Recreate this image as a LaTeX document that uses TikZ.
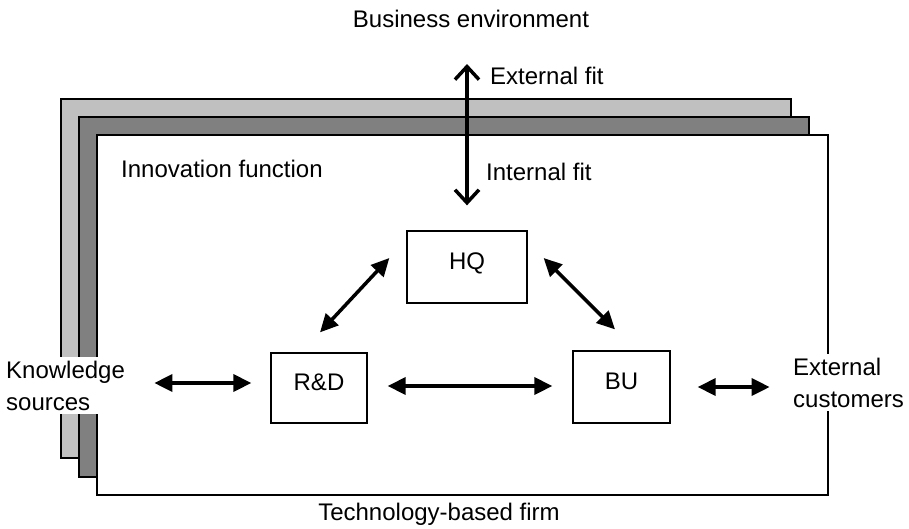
\documentclass[tikz,border=0pt]{standalone}
\usepackage{fontspec}
\setmainfont{Liberation Sans}
\usetikzlibrary{arrows.meta,calc}

\tikzset{
  txt/.style={font=\fontsize{24}{32}\selectfont, inner sep=0pt},
  unitbox/.style={draw, line width=1.3pt, fill=white, inner sep=0pt,
    font=\fontsize{24}{32}\selectfont, text height=17pt, text depth=13pt},
  layer/.style={draw, line width=1.5pt},
  dblarrow/.style={{Triangle[length=18pt,width=17pt]}-{Triangle[length=18pt,width=17pt]}, line width=3.5pt},
  fitarrow/.style={{Straight Barb[length=13pt,width=24pt,line width=3.5pt]}-{Straight Barb[length=13pt,width=24pt,line width=3.5pt]}, line width=3.5pt}
}

\begin{document}
\begin{tikzpicture}[x=1pt, y=-1pt]
\useasboundingbox (0,0) rectangle (909,528);

% stacked layers of the firm
\draw[layer, fill={rgb,255:red,192;green,192;blue,192}] (61,99) rectangle (791,458);
\draw[layer, fill={rgb,255:red,128;green,128;blue,128}] (79,117) rectangle (809,477);
\draw[layer, fill=white] (97,135) rectangle (828,495);

% frame labels
\node[txt, anchor=base] (env) at (471,27) {Business environment};
\node[txt, anchor=base] (firm) at (439,520) {Technology-based firm};
\node[txt, anchor=base west] (innov) at (121,177) {Innovation function};

% units of the innovation function
\node[unitbox, minimum width=120pt, minimum height=72pt] (hq) at (467,267) {HQ};
\node[unitbox, minimum width=96pt, minimum height=70pt] (rd) at (319,388) {R\&D};
\node[unitbox, minimum width=97pt, minimum height=72pt] (bu) at (621.5,387) {BU};

% external partners
\node[txt, fill=white, align=left, inner xsep=2pt, inner ysep=4pt, anchor=north west]
  (ks) at (4,356.5) {Knowledge\\sources};
\node[txt, fill=white, align=left, inner xsep=2pt, inner ysep=4pt, anchor=north west]
  (ec) at (791,353.5) {External\\customers};

% fit between environment and function
\coordinate (envtop) at (467,64);
\draw[fitarrow] (envtop) -- ($(hq.north)+(0,-25)$);
\node[txt, anchor=base west] (extfit) at (490,84) {External fit};
\node[txt, anchor=base west] (intfit) at (486,180) {Internal fit};

% links between units
\draw[dblarrow] ($(hq.west)+(-17,-9)$) -- ($(rd.north)+(1,-20)$);
\draw[dblarrow] ($(hq.east)+(16,-9)$) -- ($(bu.north)+(-6.5,-21)$);
\draw[dblarrow] ($(rd.east)+(20,-2)$) -- ($(bu.west)+(-20,-1)$);

% links to the outside
\draw[dblarrow] ($(rd.west)+(-116,-5)$) -- ($(rd.west)+(-19,-5)$);
\draw[dblarrow] ($(bu.east)+(27,0)$) -- ($(bu.east)+(99,0)$);
\end{tikzpicture}
\end{document}
